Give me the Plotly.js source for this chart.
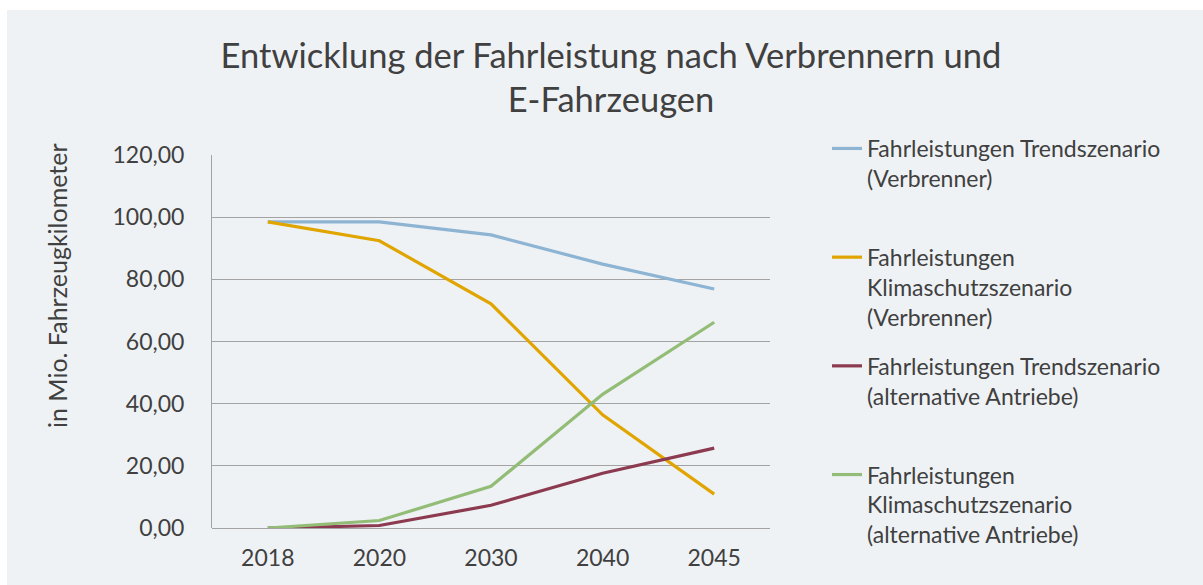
<!DOCTYPE html>
<html>
<head>
<meta charset="utf-8">
<script src="https://cdn.plot.ly/plotly-3.0.1.min.js"></script>
<style>
  body { margin: 0; background: #ffffff; }
  #chart { position: absolute; left: 7px; top: 10px; width: 1196px; height: 575px; }
</style>
</head>
<body>
<div id="chart"></div>
<script>
const years = ['2018', '2020', '2030', '2040', '2045'];

const trendVerbrenner = [98.5, 98.5, 94.3, 84.9, 76.9];
const klimaVerbrenner = [98.5, 92.4, 72.1, 36.4, 10.9];
const trendAlternativ = [0, 0.8, 7.3, 17.6, 25.7];
const klimaAlternativ = [0, 2.4, 13.4, 43.0, 66.2];

const names = [
	'Fahrleistungen Trendszenario<br>(Verbrenner)<br> ',
	'Fahrleistungen<br>Klimaschutzszenario<br>(Verbrenner)',
	'Fahrleistungen Trendszenario<br>(alternative Antriebe)<br> ',
	'Fahrleistungen<br>Klimaschutzszenario<br>(alternative Antriebe)',
];
const colors = ['#8db4d3', '#e0a500', '#8c3a4f', '#93bd77'];
const series = [trendVerbrenner, klimaVerbrenner, trendAlternativ, klimaAlternativ];

const textColor = '#404040';
const font = 'Lato, "Open Sans", sans-serif';

const traces = series.map((ys, i) => ({
	x: years, y: ys, type: 'scatter', mode: 'lines', name: names[i],
	legendgroup: 'g' + i,
	line: {color: colors[i], width: 3.2},
}));

Plotly.newPlot('chart', traces, {
	width: 1196, height: 575,
	paper_bgcolor: '#eff2f5', plot_bgcolor: '#eff2f5',
	separators: ',.',
	font: {family: font, color: textColor, size: 23},
	margin: {l: 205, r: 433, t: 145, b: 57},
	title: {
		text: 'Entwicklung der Fahrleistung nach Verbrennern und<br>E-Fahrzeugen',
		font: {size: 34.5, color: textColor},
		x: 0.505, xanchor: 'center', y: 0.9, yanchor: 'middle', yref: 'container',
	},
	xaxis: {
		type: 'category', range: [-0.5, 4.5],
		showgrid: false, zeroline: false, showline: false,
		ticks: '', ticklabelstandoff: 14,
		tickfont: {size: 23, color: textColor},
	},
	yaxis: {
		range: [0, 120], tickvals: [0, 20, 40, 60, 80, 100, 120], tickformat: '.2f',
		showgrid: true, gridcolor: '#a3a3a3', gridwidth: 1,
		zeroline: true, zerolinecolor: '#a3a3a3', zerolinewidth: 1,
		showline: true, linecolor: '#a3a3a3', linewidth: 1,
		ticks: '', ticklabelstandoff: 22,
		tickfont: {size: 23, color: textColor},
	},
	annotations: [{
		text: 'in Mio. Fahrzeugkilometer', textangle: -90,
		xref: 'paper', x: -155 / 558, xanchor: 'center',
		yref: 'paper', y: (518 - 276) / 373, yanchor: 'middle',
		showarrow: false, font: {size: 25, color: textColor},
	}],
	showlegend: true,
	legend: {
		x: 820 / 1196, xref: 'container', xanchor: 'left',
		y: 1 + 28 / 373, yref: 'paper', yanchor: 'top',
		maxheight: 540,
		valign: 'top', tracegroupgap: 16,
		font: {size: 23, color: textColor},
		bgcolor: 'rgba(0,0,0,0)',
	},
}, {displayModeBar: false});
</script>
</body>
</html>
